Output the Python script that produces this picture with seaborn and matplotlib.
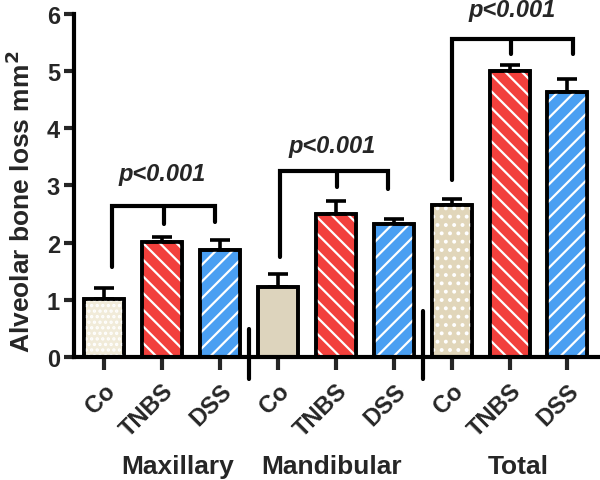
import matplotlib
matplotlib.use("Agg")
import matplotlib.pyplot as plt
import matplotlib.transforms as mtransforms
from matplotlib.patches import Rectangle
import seaborn as sns
import pandas as pd

# Datos
grupos = ["Maxillary", "Mandibular", "Total"]
tratamientos = ["Co", "TNBS", "DSS"]
medias = [1.02, 2.01, 1.87, 1.22, 2.50, 2.33, 2.66, 5.00, 4.63]
errores = [0.19, 0.08, 0.17, 0.23, 0.23, 0.09, 0.10, 0.10, 0.23]

# corchetes de significancia: (x_izq, y_izq, x_med, y_med, x_der, y_der, y_top, x_texto, y_texto)
corchetes = [
    (0.14, 1.57, 1.04, 2.33, 1.92, 2.36, 2.64, 1.0, 3.2),
    (3.04, 1.75, 4.02, 2.97, 4.90, 2.94, 3.25, 3.94, 3.7),
    (6.01, 3.09, 7.03, 5.30, 8.10, 5.30, 5.56, 7.05, 6.08),
]
texto_p = "p<0.001"

colores = {
    "Co": ["#f1ebd9", "#ddd4bd", "#e1d6ba"],
    "TNBS": "#f2403c",
    "DSS": "#4a9ff2",
}
tramas_co = ["...", None, ".."]
tramas = {"TNBS": "\\\\", "DSS": "//"}

sns.set_style("white")
plt.rcParams["font.family"] = ["Liberation Sans", "DejaVu Sans"]
plt.rcParams["font.weight"] = "bold"
plt.rcParams["hatch.linewidth"] = 1.6

claves = [f"{g} {t}" for g in grupos for t in tratamientos]
df = pd.DataFrame({"clave": claves, "valor": medias})
paleta = []
for i, g in enumerate(grupos):
    for t in tratamientos:
        paleta.append(colores[t][i] if t == "Co" else colores[t])

fig = plt.figure(figsize=(6, 4.81), dpi=100)
ax = fig.add_axes([0.123, 0.256, 0.874, 0.713])

# barras de error (solo la parte superior)
ax.errorbar(range(len(medias)), medias, yerr=[[0] * len(medias), errores],
            fmt="none", ecolor="black", elinewidth=2.6, capsize=7,
            capthick=2.6, zorder=1)

sns.barplot(data=df, x="clave", y="valor", hue="clave", palette=paleta,
            order=claves, legend=False, width=0.69, edgecolor="black",
            linewidth=2.6, saturation=1, ax=ax, zorder=2)

# tramas blancas encima de las barras
for i, p in enumerate(ax.patches[:len(medias)]):
    t = tratamientos[i % 3]
    h = tramas_co[i // 3] if t == "Co" else tramas[t]
    if h:
        r = Rectangle(p.get_xy(), p.get_width(), p.get_height(), fill=False,
                      hatch=h, edgecolor="white", linewidth=0, zorder=2.5)
        ax.add_patch(r)
    borde = Rectangle(p.get_xy(), p.get_width(), p.get_height(), fill=False,
                      edgecolor="black", linewidth=2.6, zorder=3)
    ax.add_patch(borde)

# corchetes
for xl, yl, xm, ym, xr, yr, yt, xtx, ytx in corchetes:
    ax.plot([xl, xl, xr, xr], [yl, yt, yt, yr], color="black", lw=3,
            solid_joinstyle="miter", clip_on=False, zorder=4)
    ax.plot([xm, xm], [yt, ym], color="black", lw=3, clip_on=False, zorder=4)
    ax.text(xtx, ytx, texto_p, ha="center", va="center", fontsize=17,
            fontweight="bold", style="italic", clip_on=False)

ax.set_xlim(-0.52, 8.53)
ax.set_ylim(0, 6)
ax.set_yticks(range(7))
ax.set_xticks(range(len(claves)))
ax.set_xticklabels([t for g in grupos for t in tratamientos], rotation=45,
                   ha="right", rotation_mode="anchor", fontsize=17,
                   fontweight="bold")
ax.tick_params(axis="x", length=9, width=3, direction="out", pad=7,
               bottom=True)
ax.tick_params(axis="y", length=7, width=3, direction="out", labelsize=17,
               left=True, pad=3)
ax.set_xlabel("")
ax.set_ylabel("Alveolar bone loss mm$^2$", fontsize=19, fontweight="bold")
ax.yaxis.set_label_coords(-0.074, 0.455)

sns.despine(ax=ax)
for s in ["left", "bottom"]:
    ax.spines[s].set_linewidth(3)
    ax.spines[s].set_color("black")

# marcas de corte en el eje x
for xb, ytop in [(2.5, 0.49), (5.5, 0.80)]:
    ax.plot([xb, xb], [-0.38, ytop], color="black", lw=3, clip_on=False,
            zorder=5)

# etiquetas de grupo
trans = mtransforms.blended_transform_factory(ax.transData, ax.transAxes)
for g, xg in zip(grupos, [1.28, 3.92, 7.15]):
    ax.text(xg, -0.318, g, transform=trans, ha="center", va="center",
            fontsize=19, fontweight="bold")

plt.savefig("out.png", dpi=100)
plt.close()
